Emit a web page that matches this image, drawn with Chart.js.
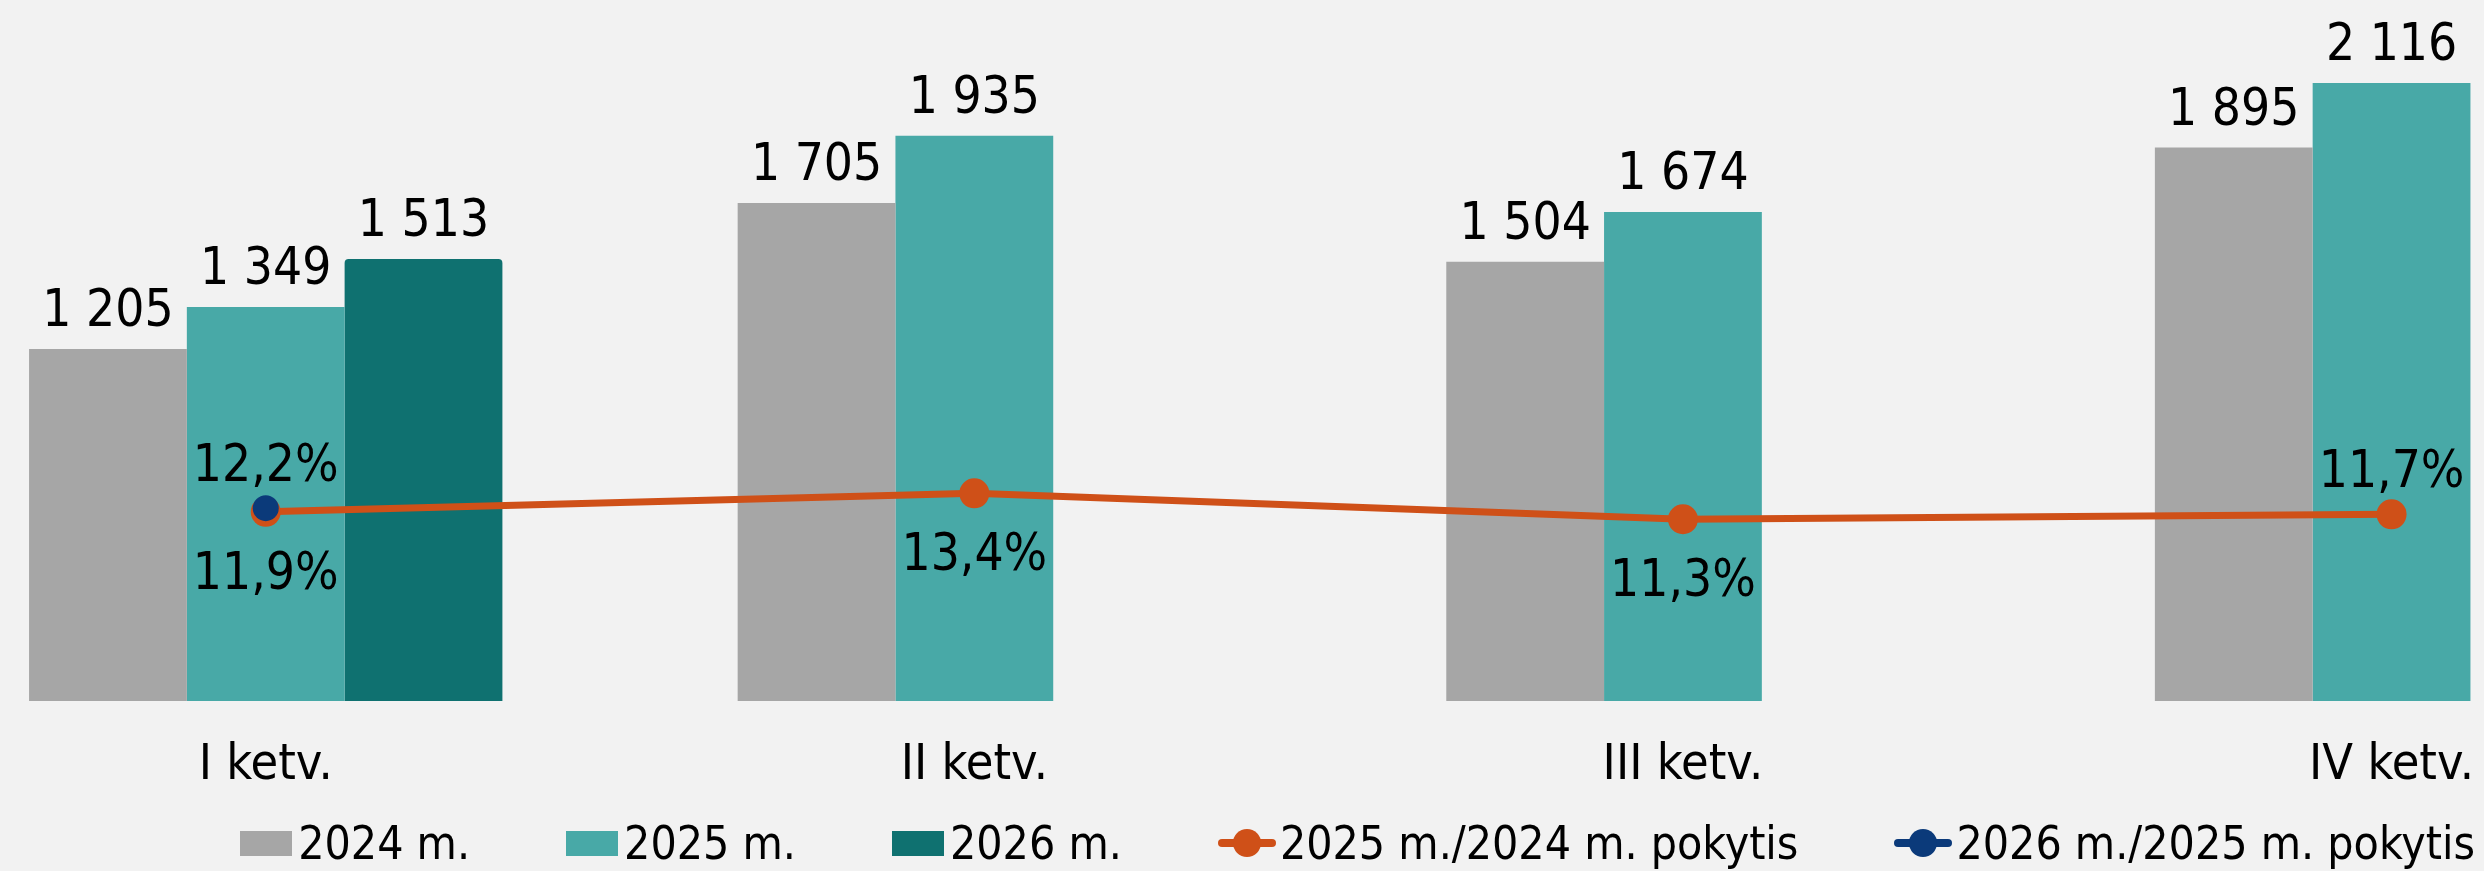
<!DOCTYPE html>
<html>
<head>
<meta charset="utf-8">
<script src="https://cdn.jsdelivr.net/npm/chart.js@4.4.1/dist/chart.umd.min.js"></script>
<style>
  html, body { margin: 0; padding: 0; background: #F2F2F2; overflow: hidden; }
  #wrap { position: relative; width: 2484px; height: 871px; }
  #legend {
    position: absolute; right: 9px; top: 819px; height: 48px;
    display: flex; align-items: center; gap: 96px;
    font: 46px 'DejaVu Sans Condensed', 'DejaVu Sans', sans-serif; color: #000;
    line-height: 48px; white-space: nowrap;
  }
  .item { display: flex; align-items: center; }
  .box { width: 52px; height: 25px; margin-right: 6px; }
  .lineMark { position: relative; width: 58px; height: 28px; margin-right: 4px; }
  .lineMark .bar { position: absolute; left: 0; right: 0; top: 10px; height: 8px; border-radius: 4px; }
  .lineMark .dot { position: absolute; left: 15px; top: 0; width: 28px; height: 28px; border-radius: 50%; }
</style>
</head>
<body>
<div id="wrap">
  <canvas id="chart" width="2484" height="871"></canvas>
  <div id="legend"></div>
</div>
<script>
// data
const quarters = ['I ketv.', 'II ketv.', 'III ketv.', 'IV ketv.'];
const values2024 = [1205, 1705, 1504, 1895];
const values2025 = [1349, 1935, 1674, 2116];
const values2026 = [1513, null, null, null];
const change2524 = [11.9, 13.4, 11.3, 11.7];
const change2625 = [12.2, null, null, null];

const FONT = "'DejaVu Sans Condensed', 'DejaVu Sans', sans-serif";

function points(arr) {
    return arr.map((v, i) => ({ x: i, y: v }));
}
function fmtThousands(v) {
    return String(v).replace(/\B(?=(\d{3})+(?!\d))/g, ' ');
}
function fmtPct(v) {
    return v.toFixed(1).replace('.', ',') + '%';
}

/* =====================
   value labels on bars and points
   ===================== */
const valueLabels = {
    id: 'valueLabels',
    afterDatasetsDraw(chart) {
        const ctx = chart.ctx;
        ctx.save();
        ctx.font = '51px ' + FONT;
        ctx.fillStyle = '#000';
        ctx.textAlign = 'center';
        ctx.textBaseline = 'alphabetic';
        chart.data.datasets.forEach((ds, di) => {
            const meta = chart.getDatasetMeta(di);
            meta.data.forEach((el, i) => {
                const v = ds.data[i].y;
                if (v == null) return;
                if (meta.type === 'bar') {
                    ctx.fillText(fmtThousands(v), el.x, el.y - 23);
                } else {
                    const above = ds.labelSide[i] === 'above';
                    ctx.fillText(fmtPct(v), el.x, above ? el.y - 27 : el.y + 77);
                }
            });
        });
        ctx.restore();
    }
};

const chart = new Chart(document.getElementById('chart'), {
    data: {
        datasets: [
            { type: 'bar', label: '2024 m.', data: points(values2024), backgroundColor: '#A6A6A6', order: 2 },
            { type: 'bar', label: '2025 m.', data: points(values2025), backgroundColor: '#48A9A7', order: 2 },
            { type: 'bar', label: '2026 m.', data: points(values2026), backgroundColor: '#0F7170', borderRadius: { topLeft: 4, topRight: 4 }, order: 2 },
            {
                type: 'line', label: '2025 m./2024 m. pokytis', data: points(change2524), yAxisID: 'y1',
                borderColor: '#CF5018', backgroundColor: '#CF5018', borderWidth: 7,
                pointRadius: 15, pointBorderWidth: 0, tension: 0, order: 1,
                labelSide: ['below', 'below', 'below', 'above']
            },
            {
                type: 'line', label: '2026 m./2025 m. pokytis', data: points(change2625), yAxisID: 'y1',
                borderColor: '#0B3A7A', backgroundColor: '#0B3A7A', borderWidth: 7,
                pointRadius: 13, pointBorderWidth: 0, tension: 0, order: 0,
                labelSide: ['above']
            }
        ]
    },
    options: {
        responsive: false,
        animation: false,
        layout: { autoPadding: false, padding: { left: 0, right: 0, top: 0, bottom: 40 } },
        datasets: {
            bar: { categoryPercentage: 0.668, barPercentage: 1.0 }
        },
        scales: {
            x: {
                type: 'linear',
                offset: false,
                min: -0.375,
                max: 3.127,
                afterBuildTicks: (scale) => {
                    scale.ticks = quarters.map((q, i) => ({ value: i }));
                },
                ticks: {
                    autoSkip: false,
                    maxRotation: 0,
                    padding: 10,
                    color: '#000',
                    font: { family: FONT, size: 50, lineHeight: 2.2 },
                    callback: (value) => quarters[value]
                },
                grid: { display: false, drawTicks: false, offset: false },
                border: { display: false }
            },
            y: { display: false, min: 0, max: 2400 },
            y1: { display: false, min: -3.4, max: 53.3 }
        },
        plugins: {
            legend: { display: false },
            tooltip: { enabled: false }
        }
    },
    plugins: [valueLabels]
});

/* =====================
   HTML legend
   ===================== */
const legend = document.getElementById('legend');
chart.data.datasets.forEach(ds => {
    const item = document.createElement('div');
    item.className = 'item';
    let mark;
    if (ds.type === 'bar') {
        mark = `<span class="box" style="background:${ds.backgroundColor}"></span>`;
    } else {
        mark = `<span class="lineMark"><span class="bar" style="background:${ds.borderColor}"></span>` +
               `<span class="dot" style="background:${ds.borderColor}"></span></span>`;
    }
    item.innerHTML = mark + `<span>${ds.label}</span>`;
    legend.appendChild(item);
});
</script>
</body>
</html>
